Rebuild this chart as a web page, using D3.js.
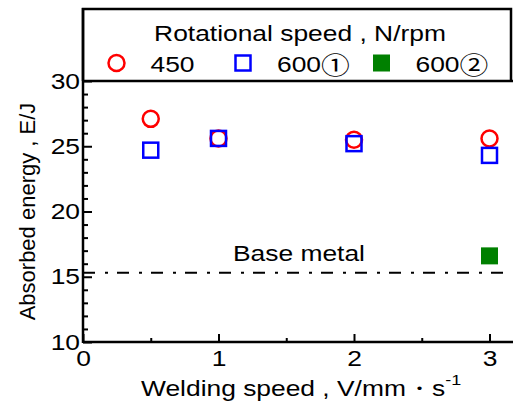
<!DOCTYPE html>
<html>
<head>
<meta charset="utf-8">
<script src="https://cdn.jsdelivr.net/npm/d3@7"></script>
<style>
  body { margin: 0; background: #fff; }
  text { font-family: "Liberation Sans", Arial, sans-serif; fill: #000; }
</style>
</head>
<body>
<div id="chart"></div>
<script>
// values
const speeds450 = [0.5, 1, 2, 3];
const energy450 = [27.1, 25.6, 25.5, 25.6];
const speeds600a = [0.5, 1, 2, 3];
const energy600a = [24.7, 25.6, 25.2, 24.3];
const speeds600b = [3];
const energy600b = [16.6];
const baseMetal = 15.3;

const seriesNames = ["450", "600", "600"];
const seriesMarks = ["", "\u2460", "\u2461"];
const seriesColors = ["#ff0000", "#0000ff", "#008000"];
const seriesShapes = ["circle", "square", "filled"];

const yMajor = [10, 15, 20, 25, 30];
const xMajor = [0, 1, 2, 3];

const width = 513, height = 403;
const frameTop = 9;
const fontSize = 22;
const stretch = 1.2;   // the original lettering is wider than Arial

const svg = d3.select("#chart").append("svg")
    .attr("width", width)
    .attr("height", height);

const x = d3.scaleLinear().domain([0, 3]).range([83, 489.5]);
const y = d3.scaleLinear().domain([10, 30]).range([342, 81]);

function wideText(px, py, str, anchor) {
    return svg.append("text")
        .attr("transform", `translate(${px},${py}) scale(${stretch},1)`)
        .attr("text-anchor", anchor || "start")
        .attr("font-size", fontSize)
        .text(str);
}

// legend box above 30
svg.append("path")
    .attr("d", `M${x(0)},${y(30)}V${frameTop}H${width - 2}V${y(30)}`)
    .attr("fill", "none")
    .attr("stroke", "#000")
    .attr("stroke-width", 2.5);

svg.append("line")
    .attr("x1", x(0)).attr("x2", width)
    .attr("y1", y(30)).attr("y2", y(30))
    .attr("stroke", "#000").attr("stroke-width", 2.5);

// y axis
const yAxis = svg.append("g")
    .attr("transform", `translate(${x(0)},0)`)
    .call(d3.axisLeft(y).tickValues(yMajor).tickSizeInner(-9).tickSizeOuter(0).tickPadding(3));
const yMinor = svg.append("g")
    .attr("transform", `translate(${x(0)},0)`)
    .call(d3.axisLeft(y).tickValues(d3.range(10, 30, 1).filter(d => d % 5 !== 0)).tickSize(-5).tickFormat(""));

// x axis
const xAxis = svg.append("g")
    .attr("transform", `translate(0,${y(10)})`)
    .call(d3.axisBottom(x).tickValues(xMajor).tickFormat(d3.format("d")).tickSizeInner(-8).tickSizeOuter(0).tickPadding(8));
const xMinor = svg.append("g")
    .attr("transform", `translate(0,${y(10)})`)
    .call(d3.axisBottom(x).tickValues([0.5, 1.5, 2.5]).tickSize(-4).tickFormat(""));

[yAxis, yMinor, xAxis, xMinor].forEach(g => {
    g.select(".domain").remove();
    g.selectAll("line").attr("stroke-width", 2);
    g.selectAll("text")
        .attr("font-size", fontSize)
        .attr("font-family", "Liberation Sans, Arial, sans-serif");
});
yAxis.selectAll("text").attr("transform", `scale(${stretch},1)`).attr("x", -3 / stretch);
xAxis.selectAll("text").attr("transform", `scale(${stretch},1)`);

svg.append("line")
    .attr("x1", x(0)).attr("x2", width)
    .attr("y1", y(10)).attr("y2", y(10))
    .attr("stroke", "#000").attr("stroke-width", 2.5);
svg.append("line")
    .attr("x1", x(0)).attr("x2", x(0))
    .attr("y1", frameTop - 1).attr("y2", y(10) + 1)
    .attr("stroke", "#000").attr("stroke-width", 2.5);

// base metal line
svg.append("line")
    .attr("x1", x(0)).attr("x2", width)
    .attr("y1", y(baseMetal)).attr("y2", y(baseMetal))
    .attr("stroke", "#000").attr("stroke-width", 2)
    .attr("stroke-dasharray", "12,10,3,9");
wideText(233, y(baseMetal) - 12, "Base metal");

// markers
function drawMarker(g, shape, color) {
    if (shape === "circle") {
        g.append("circle").attr("r", 8)
            .attr("fill", "none").attr("stroke", color).attr("stroke-width", 2.5);
    } else if (shape === "square") {
        g.append("rect").attr("x", -7.5).attr("y", -7.5).attr("width", 15).attr("height", 15)
            .attr("fill", "none").attr("stroke", color).attr("stroke-width", 2.5);
    } else {
        g.append("rect").attr("x", -8.5).attr("y", -8.5).attr("width", 17).attr("height", 17)
            .attr("fill", color);
    }
}

const series = [
    {xs: speeds450, ys: energy450},
    {xs: speeds600a, ys: energy600a},
    {xs: speeds600b, ys: energy600b}
];

series.forEach((s, i) => {
    s.xs.forEach((v, j) => {
        const g = svg.append("g").attr("transform", `translate(${x(v)},${y(s.ys[j])})`);
        drawMarker(g, seriesShapes[i], seriesColors[i]);
    });
});

// legend
wideText(300, 41, "Rotational speed , N/rpm", "middle");

const legendX = [116.5, 243, 381.5];
seriesNames.forEach((name, i) => {
    const g = svg.append("g").attr("transform", `translate(${legendX[i]},63)`);
    drawMarker(g, seriesShapes[i], seriesColors[i]);
    const t = wideText(legendX[i] + 34, 72, name);
    if (seriesMarks[i]) {
        t.append("tspan")
            .attr("font-family", "Noto Sans CJK JP")
            .attr("font-size", 24)
            .attr("dy", 2)
            .text(seriesMarks[i]);
    }
});

// axis titles
svg.append("text")
    .attr("transform", `translate(34.5,${(y(10) + y(30)) / 2}) rotate(-90)`)
    .attr("text-anchor", "middle")
    .attr("font-size", 22)
    .text("Absorbed energy , E/J");

const xt = wideText(141, 396, null);
xt.append("tspan").text("Welding speed , V/mm\u30fbs");
xt.append("tspan").attr("dy", -11).attr("font-size", 15).text("-1");
</script>
</body>
</html>
